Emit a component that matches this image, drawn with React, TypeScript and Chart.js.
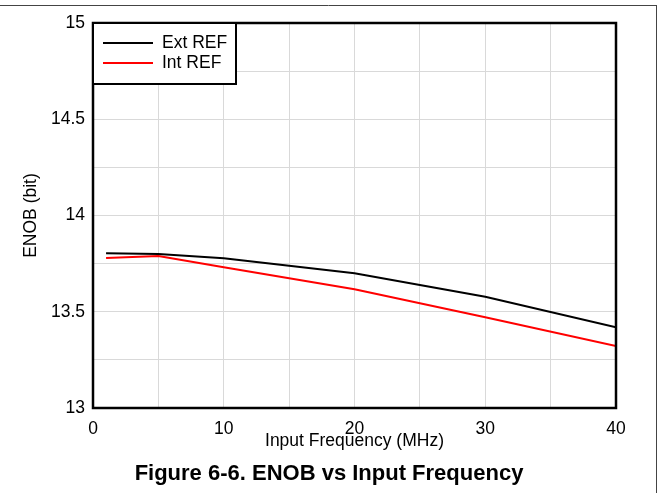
import React, { useEffect, useRef } from "react";
import { Chart, registerables } from "chart.js";

Chart.register(...registerables);

const frequencyMHz = [1, 5, 10, 20, 30, 40];
const extRefEnob = [13.804, 13.8, 13.778, 13.7, 13.578, 13.419];
const intRefEnob = [13.779, 13.79, 13.731, 13.617, 13.471, 13.322];
const seriesLabels = ["Ext REF", "Int REF"];
const seriesColors = ["#000000", "#ff0000"];
const xTickLabels = [0, 10, 20, 30, 40];
const yTickLabels = [13, 13.5, 14, 14.5, 15];

const FONT = "'Liberation Sans', Arial, sans-serif";

const decorPlugin = {
  id: "decor",
  beforeDraw(chart: any) {
    const ctx = chart.ctx;
    ctx.save();
    ctx.fillStyle = "#ffffff";
    ctx.fillRect(0, 0, chart.width, chart.height);
    ctx.strokeStyle = "#444444";
    ctx.lineWidth = 1;
    ctx.beginPath();
    ctx.moveTo(0, 5.5);
    ctx.lineTo(657, 5.5);
    ctx.moveTo(656.5, 5);
    ctx.lineTo(656.5, chart.height);
    ctx.stroke();
    ctx.restore();
  },
  afterDatasetsDraw(chart: any) {
    const ctx = chart.ctx;
    const { left, top, right, bottom } = chart.chartArea;
    ctx.save();
    ctx.strokeStyle = "#000000";
    ctx.lineWidth = 2.5;
    ctx.strokeRect(left, top, right - left, bottom - top);

    // legend box
    const bw = 143;
    const bh = 61;
    ctx.fillStyle = "#ffffff";
    ctx.fillRect(left, top, bw, bh);
    ctx.lineWidth = 2;
    ctx.strokeRect(left, top, bw, bh);
    ctx.font = `17.5px ${FONT}`;
    ctx.textBaseline = "middle";
    ctx.textAlign = "left";
    chart.data.datasets.forEach((ds: any, i: number) => {
      const y = top + 20 + i * 20;
      ctx.strokeStyle = ds.borderColor;
      ctx.lineWidth = 2;
      ctx.beginPath();
      ctx.moveTo(left + 10, y);
      ctx.lineTo(left + 60, y);
      ctx.stroke();
      ctx.fillStyle = "#000000";
      ctx.fillText(ds.label, left + 69, y);
    });
    ctx.restore();
  },
};

export default function App() {
  const ref = useRef<HTMLCanvasElement | null>(null);

  useEffect(() => {
    if (!ref.current) return;
    const chart = new Chart(ref.current, {
      type: "line",
      data: {
        datasets: [
          {
            label: seriesLabels[0],
            data: frequencyMHz.map((x, i) => ({ x, y: extRefEnob[i] })),
            borderColor: seriesColors[0],
            backgroundColor: seriesColors[0],
            borderWidth: 2,
            pointRadius: 0,
            tension: 0,
          },
          {
            label: seriesLabels[1],
            data: frequencyMHz.map((x, i) => ({ x, y: intRefEnob[i] })),
            borderColor: seriesColors[1],
            backgroundColor: seriesColors[1],
            borderWidth: 2,
            pointRadius: 0,
            tension: 0,
          },
        ],
      },
      options: {
        animation: false,
        responsive: false,
        devicePixelRatio: 1,
        layout: { padding: { left: 0, top: 23, right: 0, bottom: 0 } },
        plugins: {
          legend: { display: false },
          tooltip: { enabled: false },
          title: {
            display: true,
            position: "bottom",
            text: "Figure 6-6. ENOB vs Input Frequency",
            color: "#000000",
            font: { family: FONT, size: 22, weight: "bold", lineHeight: 1.2 },
            padding: { top: 0, bottom: 6 },
          },
        },
        scales: {
          x: {
            type: "linear",
            min: 0,
            max: 40,
            afterFit: (s: any) => {
              s.height = 52.6;
            },
            ticks: {
              stepSize: 5,
              autoSkip: false,
              maxRotation: 0,
              padding: 11,
              color: "#000000",
              font: { family: FONT, size: 17.5 },
              callback: (v: any) => (xTickLabels.includes(Number(v)) ? String(v) : ""),
            },
            grid: { color: "#d9d9d9", lineWidth: 1, drawTicks: false },
            border: { display: false },
            title: {
              display: true,
              text: "Input Frequency (MHz)",
              color: "#000000",
              font: { family: FONT, size: 17.5, lineHeight: 1.2 },
              padding: { top: 0, bottom: 9 },
            },
          },
          y: {
            type: "linear",
            min: 13,
            max: 15,
            afterFit: (s: any) => {
              s.width = 93;
            },
            ticks: {
              stepSize: 0.25,
              autoSkip: false,
              padding: 8,
              color: "#000000",
              font: { family: FONT, size: 17.5 },
              callback: (v: any) =>
                yTickLabels.some((t) => Math.abs(t - Number(v)) < 1e-6) ? String(Number(v)) : "",
            },
            grid: { color: "#d9d9d9", lineWidth: 1, drawTicks: false },
            border: { display: false },
            title: {
              display: true,
              text: "ENOB (bit)",
              color: "#000000",
              font: { family: FONT, size: 17.5, lineHeight: 1.2 },
              padding: { top: 21, bottom: 0 },
            },
          },
          yRightSpace: {
            type: "linear",
            position: "right",
            display: true,
            min: 0,
            max: 1,
            afterFit: (s: any) => {
              s.width = 42;
            },
            ticks: { display: false },
            grid: { display: false, drawTicks: false },
            border: { display: false },
          },
        },
      },
      plugins: [decorPlugin],
    } as any);
    return () => chart.destroy();
  }, []);

  return (
    <div style={{ position: "absolute", left: 0, top: 0, width: 658, height: 493 }}>
      <canvas ref={ref} width={658} height={493} />
    </div>
  );
}
